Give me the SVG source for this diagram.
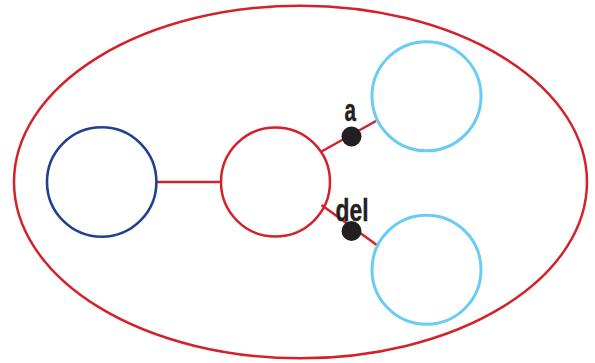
<svg xmlns="http://www.w3.org/2000/svg" width="595" height="363" viewBox="0 0 595 363">
<style>
.red{fill:none;stroke:#d3222b;stroke-width:2.5}
.dark{fill:none;stroke:#22408f;stroke-width:2.6}
.light{fill:none;stroke:#6accf3;stroke-width:3}
.dot{fill:#231f20}
.lbl{font-family:"Liberation Sans",Arial,sans-serif;font-weight:bold;fill:#231f20;stroke:#231f20;stroke-width:0.4}
</style>
<rect width="595" height="363" fill="#fff"/>
<g id="container"><ellipse class="red" cx="300.5" cy="182" rx="286.5" ry="176.3"/></g>
<g id="connectors">
<line class="red" x1="157" y1="182" x2="221" y2="182"/>
<line class="red" x1="321.5" y1="151.5" x2="376" y2="121"/>
<line class="red" x1="321.5" y1="205" x2="377.5" y2="245.5"/>
<circle class="dot" cx="351.5" cy="136.5" r="10"/>
<circle class="dot" cx="351.5" cy="231" r="10"/>
<text class="lbl" x="344.5" y="120.5" font-size="31" textLength="11.5" lengthAdjust="spacingAndGlyphs">a</text>
<text class="lbl" x="335.5" y="220.5" font-size="31" textLength="33" lengthAdjust="spacingAndGlyphs">del</text>
</g>
<g id="node-dark"><circle class="dark" cx="101.7" cy="182" r="54.7"/></g>
<g id="node-center"><circle class="red" cx="275.5" cy="182" r="54.5"/></g>
<g id="node-top"><circle class="light" cx="426.5" cy="96.3" r="54.5"/></g>
<g id="node-bottom"><circle class="light" cx="426.5" cy="269.7" r="54.5"/></g>
</svg>
